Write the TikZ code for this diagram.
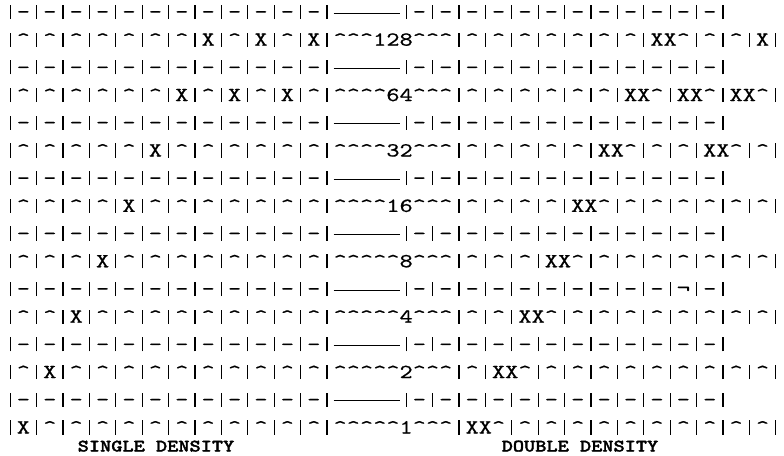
\documentclass[tikz,border=0pt]{standalone}
\usepackage{fontspec}

\newfontfamily\maquina{lmmono10-regular.otf}[FakeStretch=1.257, FakeBold=0.6]
\newfontfamily\maquinanegra{lmmonolt10-bold.otf}[FakeStretch=1.217, FakeBold=1.6]

\newcommand\barra{\makebox[13.2pt]{\rule[-1pt]{1.15pt}{14.2pt}}}
\newcommand\raya{\rule[4.6pt]{66pt}{0.9pt}}

\ExplSyntaxOn
\NewDocumentCommand \fila { m }
  {
    \tl_set:No \l_tmpa_tl { #1 }
    \tl_replace_all:Nnn \l_tmpa_tl { | } { \barra }
    \tl_use:N \l_tmpa_tl
  }
\ExplSyntaxOff

\tikzset{
    renglon/.style={anchor=base west, inner sep=0pt, font=\maquina\fontsize{20pt}{24pt}\selectfont},
    rotulo/.style={anchor=base, inner sep=0pt, font=\maquinanegra\fontsize{17.5pt}{21pt}\selectfont}
}

\begin{document}
\begin{tikzpicture}[x=1pt, y=1pt]

    \useasboundingbox (0,0) rectangle (784,-455);

    \catcode`\^=12
    \foreach \n/\texto in {
        1/{|-|-|-|-|-|-|-|-|-|-|-|-|\raya|-|-|-|-|-|-|-|-|-|-|-|-|},
        2/{|^|^|^|^|^|^|^|X|^|X|^|X|^^^128^^^|^|^|^|^|^|^|^|XX^|^|^|X|},
        3/{|-|-|-|-|-|-|-|-|-|-|-|-|\raya|-|-|-|-|-|-|-|-|-|-|-|-|},
        4/{|^|^|^|^|^|^|X|^|X|^|X|^|^^^^64^^^|^|^|^|^|^|^|XX^|XX^|XX^|},
        5/{|-|-|-|-|-|-|-|-|-|-|-|-|\raya|-|-|-|-|-|-|-|-|-|-|-|-|},
        6/{|^|^|^|^|^|X|^|^|^|^|^|^|^^^^32^^^|^|^|^|^|^|XX^|^|^|XX^|^|},
        7/{|-|-|-|-|-|-|-|-|-|-|-|-|\raya|-|-|-|-|-|-|-|-|-|-|-|-|},
        8/{|^|^|^|^|X|^|^|^|^|^|^|^|^^^^16^^^|^|^|^|^|XX^|^|^|^|^|^|^|},
        9/{|-|-|-|-|-|-|-|-|-|-|-|-|\raya|-|-|-|-|-|-|-|-|-|-|-|-|},
        10/{|^|^|^|X|^|^|^|^|^|^|^|^|^^^^^8^^^|^|^|^|XX^|^|^|^|^|^|^|^|},
        11/{|-|-|-|-|-|-|-|-|-|-|-|-|\raya|-|-|-|-|-|-|-|-|-|-|¬|-|},
        12/{|^|^|X|^|^|^|^|^|^|^|^|^|^^^^^4^^^|^|^|XX^|^|^|^|^|^|^|^|^|},
        13/{|-|-|-|-|-|-|-|-|-|-|-|-|\raya|-|-|-|-|-|-|-|-|-|-|-|-|},
        14/{|^|X|^|^|^|^|^|^|^|^|^|^|^^^^^2^^^|^|XX^|^|^|^|^|^|^|^|^|^|},
        15/{|-|-|-|-|-|-|-|-|-|-|-|-|\raya|-|-|-|-|-|-|-|-|-|-|-|-|},
        16/{|X|^|^|^|^|^|^|^|^|^|^|^|^^^^^1^^^|XX^|^|^|^|^|^|^|^|^|^|^|}%
    } {
        \node[renglon] (fila\n) at (3.4, {-18-27.7*(\n-1)}) {\fila{\texto}};
    }

    \node[rotulo] (simple) at (156,-451.5) {SINGLE DENSITY};
    \node[rotulo] (doble) at (580,-451.5) {DOUBLE DENSITY};

\end{tikzpicture}
\end{document}
